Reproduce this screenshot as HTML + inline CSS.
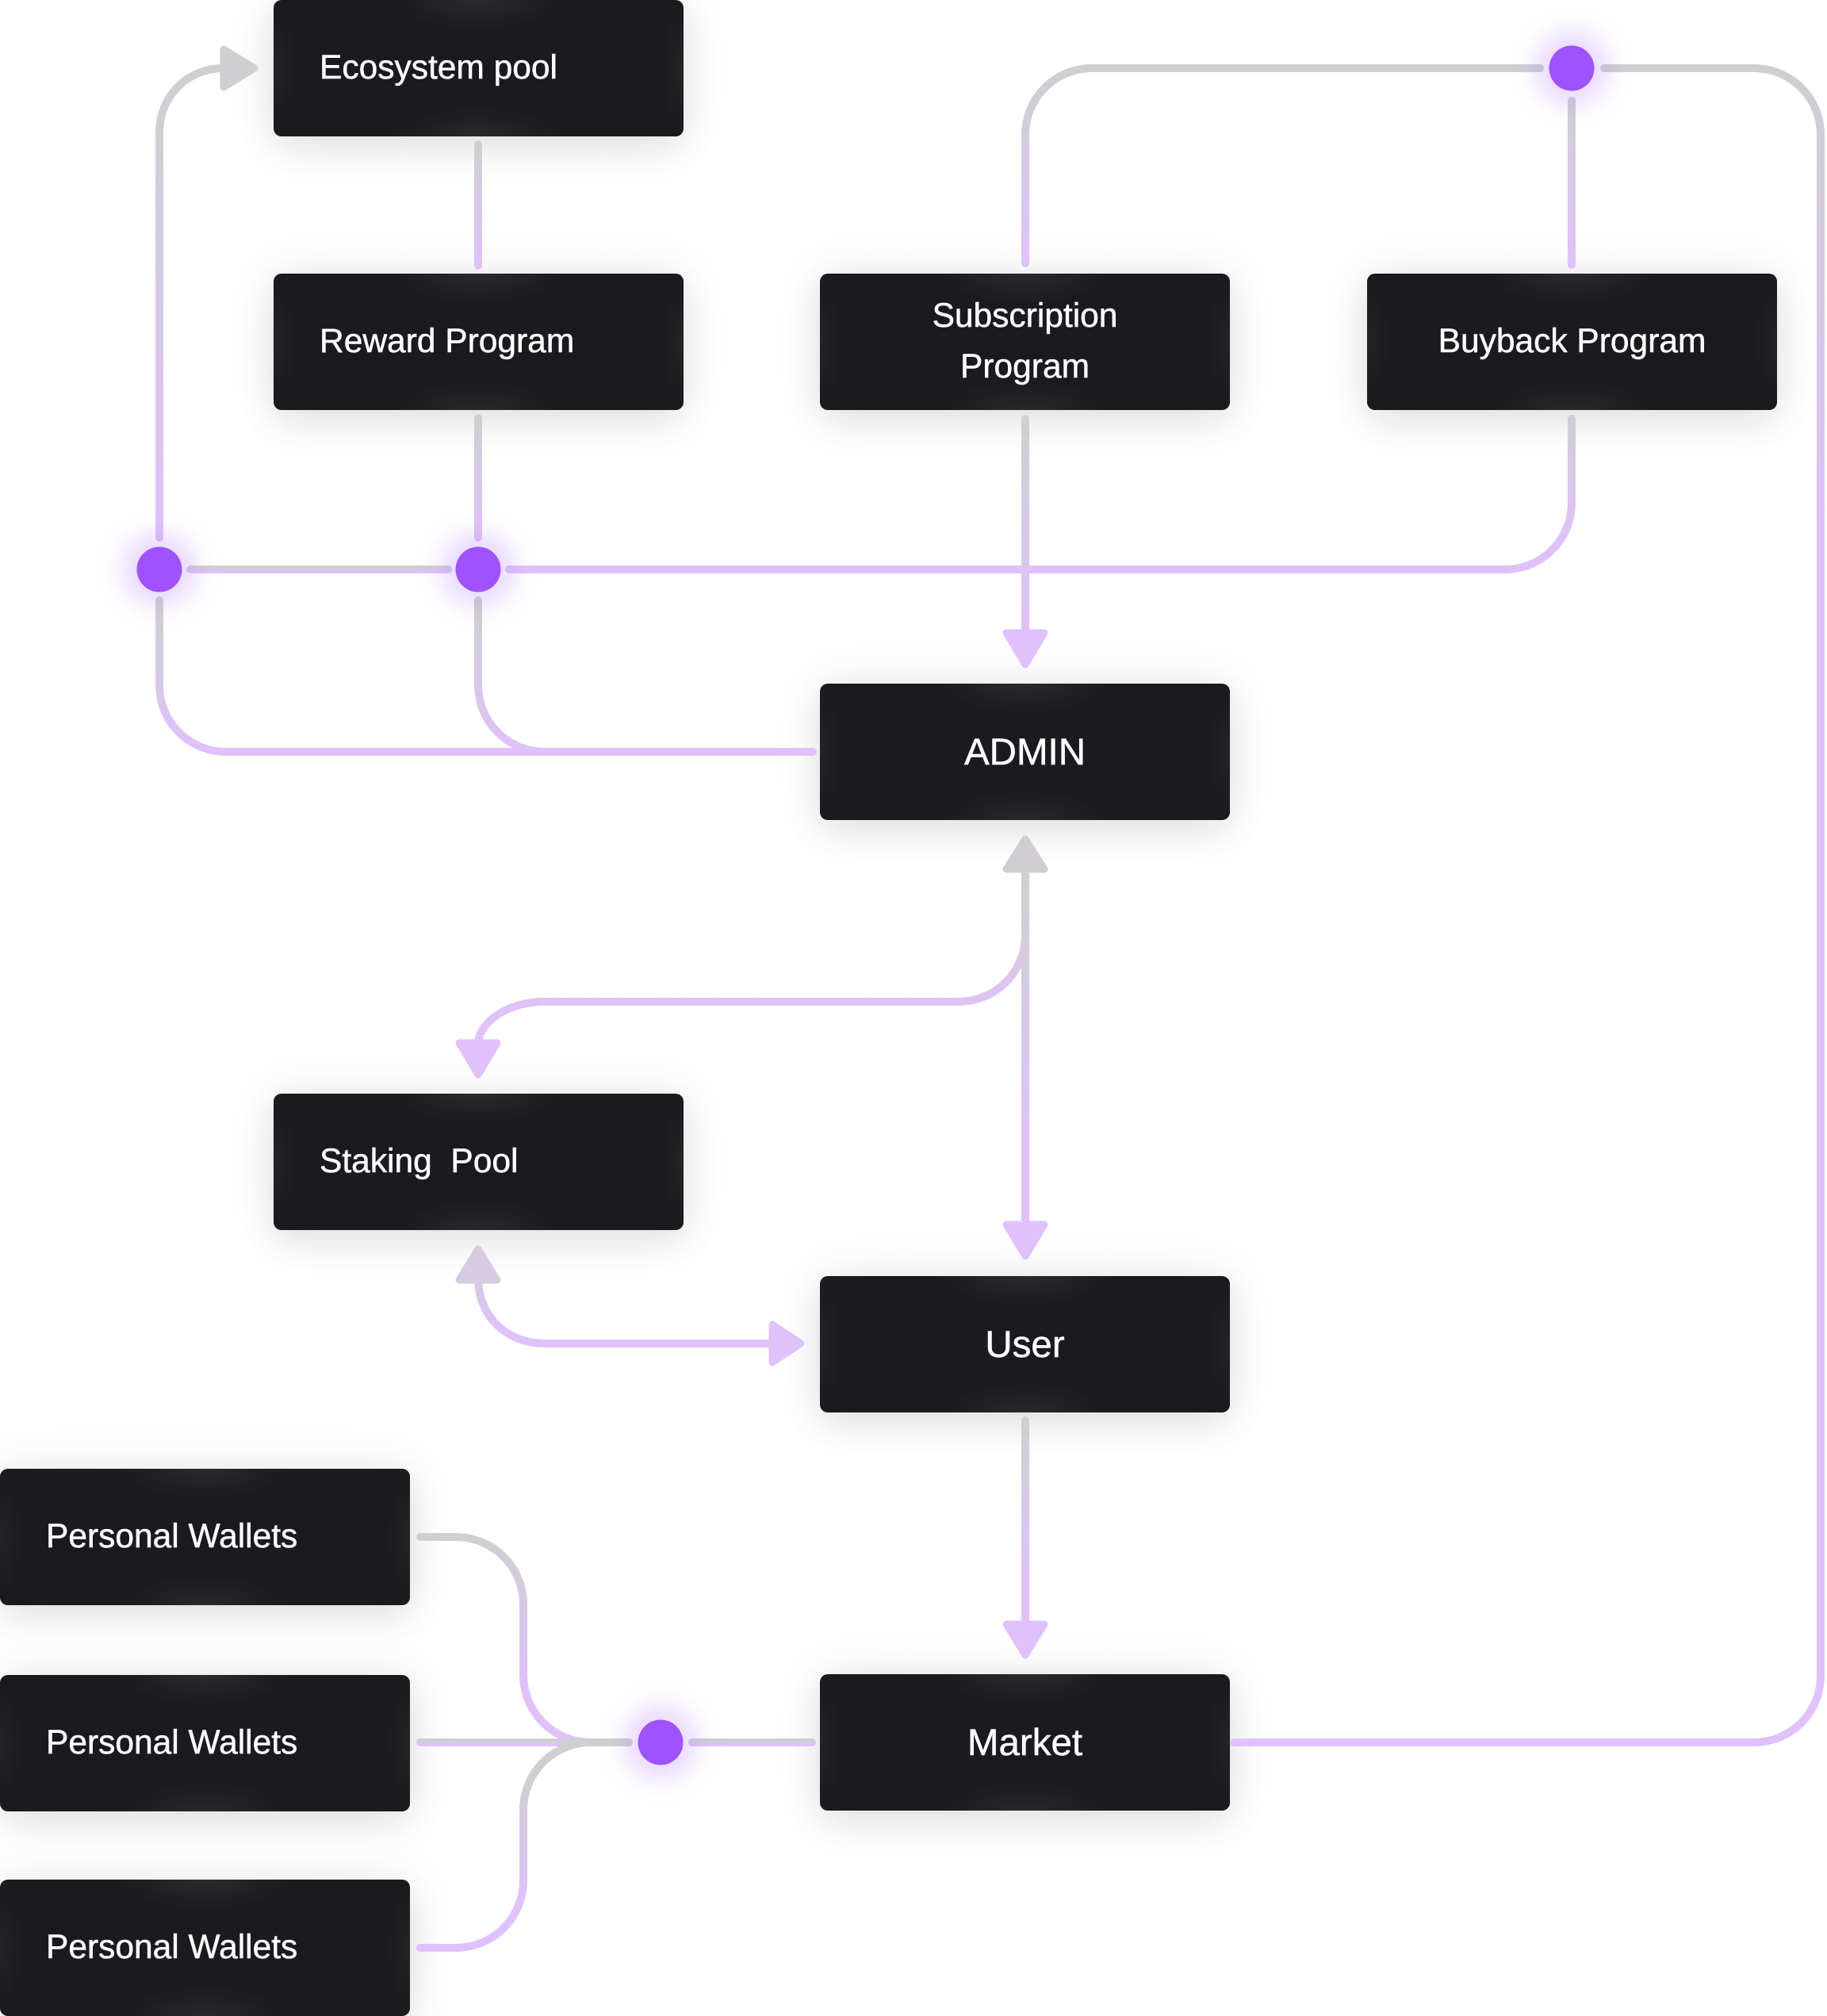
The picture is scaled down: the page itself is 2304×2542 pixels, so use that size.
<!DOCTYPE html>
<html>
<head>
<meta charset="utf-8">
<style>
  html, body { margin:0; padding:0; background:#ffffff; }
  body { width:2304px; height:2542px; position:relative; overflow:hidden; font-family:"Liberation Sans", Arial, sans-serif; }
  .box {
    position:absolute; width:517px; height:172px; border-radius:10px;
    background:
      radial-gradient(ellipse 110px 38px at 50% 0%, rgba(255,255,255,0.07), rgba(255,255,255,0) 100%),
      radial-gradient(ellipse 110px 38px at 50% 100%, rgba(255,255,255,0.06), rgba(255,255,255,0) 100%),
      radial-gradient(ellipse 30px 80px at 0% 50%, rgba(255,255,255,0.04), rgba(255,255,255,0) 100%),
      radial-gradient(ellipse 30px 80px at 100% 50%, rgba(255,255,255,0.04), rgba(255,255,255,0) 100%),
      #1b1a1f;
    box-shadow: 0 0 60px rgba(0,0,0,0.09), 0 18px 50px rgba(0,0,0,0.07);
    color:#ffffff; display:flex; align-items:center;
    font-size:42.5px; -webkit-text-stroke:0.5px #ffffff;
    box-sizing:border-box; white-space:pre;
  }
  .left { padding-left:58px; }
  .center { justify-content:center; text-align:center; }
  .big { font-size:47.5px; }
  .two { line-height:64px; }
  svg { position:absolute; left:0; top:0; }
</style>
</head>
<body>

<div class="box left" style="left:345px;top:0px;">Ecosystem pool</div>
<div class="box left" style="left:345px;top:345px;">Reward Program</div>
<div class="box center two" style="left:1034px;top:345px;">Subscription<br>Program</div>
<div class="box center" style="left:1724px;top:345px;">Buyback Program</div>
<div class="box center big" style="left:1034px;top:862px;">ADMIN</div>
<div class="box left" style="left:345px;top:1379px;">Staking  Pool</div>
<div class="box center big" style="left:1034px;top:1609px;">User</div>
<div class="box center big" style="left:1034px;top:2111px;">Market</div>
<div class="box left" style="left:0px;top:1852px;">Personal Wallets</div>
<div class="box left" style="left:0px;top:2112px;">Personal Wallets</div>
<div class="box left" style="left:0px;top:2370px;">Personal Wallets</div>

<svg width="2304" height="2542" viewBox="0 0 2304 2542" xmlns="http://www.w3.org/2000/svg">
  <defs>
    <linearGradient id="g1" gradientUnits="userSpaceOnUse" x1="0" y1="182" x2="0" y2="335"><stop offset="0" stop-color="#cfcfd1"/><stop offset="1" stop-color="#e0c1fb"/></linearGradient>
    <linearGradient id="g2" gradientUnits="userSpaceOnUse" x1="0" y1="527" x2="0" y2="678"><stop offset="0" stop-color="#cfcfd1"/><stop offset="1" stop-color="#e0c1fb"/></linearGradient>
    <linearGradient id="g3" gradientUnits="userSpaceOnUse" x1="0" y1="86" x2="0" y2="678"><stop offset="0" stop-color="#cfcfd1"/><stop offset="1" stop-color="#e0c1fb"/></linearGradient>
    <linearGradient id="gh718" gradientUnits="userSpaceOnUse" x1="0" y1="713" x2="0" y2="723"><stop offset="0.3" stop-color="#cfcfd1"/><stop offset="0.8" stop-color="#e0c1fb"/></linearGradient>
    <linearGradient id="g5" gradientUnits="userSpaceOnUse" x1="0" y1="528" x2="0" y2="718"><stop offset="0" stop-color="#cfcfd1"/><stop offset="0.75" stop-color="#e0c1fb"/></linearGradient>
    <linearGradient id="g6" gradientUnits="userSpaceOnUse" x1="0" y1="757" x2="0" y2="948"><stop offset="0" stop-color="#cfcfd1"/><stop offset="1" stop-color="#e0c1fb"/></linearGradient>
    <linearGradient id="g7" gradientUnits="userSpaceOnUse" x1="0" y1="528" x2="0" y2="790"><stop offset="0" stop-color="#cfcfd1"/><stop offset="1" stop-color="#e0c1fb"/></linearGradient>
    <linearGradient id="g8" gradientUnits="userSpaceOnUse" x1="0" y1="86" x2="0" y2="332"><stop offset="0" stop-color="#cfcfd1"/><stop offset="1" stop-color="#e0c1fb"/></linearGradient>
    <linearGradient id="g9" gradientUnits="userSpaceOnUse" x1="0" y1="127" x2="0" y2="334"><stop offset="0" stop-color="#cfcfd1"/><stop offset="1" stop-color="#e0c1fb"/></linearGradient>
    <linearGradient id="g10" gradientUnits="userSpaceOnUse" x1="0" y1="86" x2="0" y2="700"><stop offset="0" stop-color="#cfcfd1"/><stop offset="1" stop-color="#e0c1fb"/></linearGradient>
    <linearGradient id="g11" gradientUnits="userSpaceOnUse" x1="0" y1="1100" x2="0" y2="1540"><stop offset="0" stop-color="#cfcfd1"/><stop offset="0.8" stop-color="#e0c1fb"/></linearGradient>
    <linearGradient id="g13" gradientUnits="userSpaceOnUse" x1="0" y1="1175" x2="0" y2="1263"><stop offset="0" stop-color="#d5cbdc"/><stop offset="1" stop-color="#dfc3f6"/></linearGradient>
    <linearGradient id="g14" gradientUnits="userSpaceOnUse" x1="0" y1="1615" x2="0" y2="1694"><stop offset="0" stop-color="#d6c9e4"/><stop offset="1" stop-color="#e0c1fb"/></linearGradient>
    <linearGradient id="g15" gradientUnits="userSpaceOnUse" x1="0" y1="1791" x2="0" y2="2044"><stop offset="0" stop-color="#cfcfd1"/><stop offset="0.8" stop-color="#e0c1fb"/></linearGradient>
    <linearGradient id="g16" gradientUnits="userSpaceOnUse" x1="0" y1="1938" x2="0" y2="2197"><stop offset="0" stop-color="#cfcfd1"/><stop offset="0.75" stop-color="#e0c1fb"/></linearGradient>
    <linearGradient id="g18" gradientUnits="userSpaceOnUse" x1="0" y1="2197" x2="0" y2="2456"><stop offset="0.15" stop-color="#cfcfd1"/><stop offset="0.8" stop-color="#e0c1fb"/></linearGradient>
    <linearGradient id="gh2197" gradientUnits="userSpaceOnUse" x1="0" y1="2192" x2="0" y2="2202"><stop offset="0.3" stop-color="#cfcfd1"/><stop offset="0.8" stop-color="#e0c1fb"/></linearGradient>
    <filter id="glow" x="-100%" y="-100%" width="300%" height="300%">
      <feGaussianBlur stdDeviation="16"/>
    </filter>
  </defs>

  <g fill="none" stroke-width="10" stroke-linecap="round" stroke-linejoin="round">
    <!-- Eco -> Reward -->
    <path d="M603,182 V335" stroke="url(#g1)"/>
    <!-- Reward -> dot2 -->
    <path d="M603,527 V678" stroke="url(#g2)"/>
    <!-- dot1 up to Ecosystem arrow -->
    <path d="M201,678 V166 A80,80 0 0 1 281,86 H284" stroke="url(#g3)"/>
    <!-- between dots -->
    <path d="M240,718 H565" stroke="url(#gh718)"/>
    <!-- dot2 right to Buyback -->
    <path d="M642,718 H1898 A84,84 0 0 0 1982,634 V528" stroke="url(#g5)"/>
    <!-- dot1 down to ADMIN -->
    <path d="M201,757 V864 A84,84 0 0 0 285,948 H1025" stroke="url(#g6)"/>
    <!-- dot2 down joining -->
    <path d="M603,757 V864 A84,84 0 0 0 687,948" stroke="url(#g6)"/>
    <!-- Subscription down to ADMIN -->
    <path d="M1293,528 V800" stroke="url(#g7)"/>
    <!-- Subscription up to top line -->
    <path d="M1293,332 V170 A84,84 0 0 1 1377,86 H1942" stroke="url(#g8)"/>
    <!-- top-right dot down to Buyback -->
    <path d="M1982,127 V334" stroke="url(#g9)"/>
    <!-- big loop to Market -->
    <path d="M2023,86 H2212 A84,84 0 0 1 2296,170 V2113 A84,84 0 0 1 2212,2197 H1556" stroke="url(#g10)"/>
    <!-- ADMIN <-> User -->
    <path d="M1293,1100 V1545" stroke="url(#g11)"/>
    <!-- branch to Staking -->
    <path d="M1293,1175 A84,84 0 0 1 1209,1263 H686 C640,1263 603,1290 603,1316" stroke="url(#g13)"/>
    <!-- Staking <-> User -->
    <path d="M603,1612 C603,1660 640,1694 686,1694 H975" stroke="url(#g14)"/>
    <!-- User -> Market -->
    <path d="M1293,1791 V2048" stroke="url(#g15)"/>
    <!-- Personal wallets -->
    <path d="M530,1938 H575 A85,85 0 0 1 660,2023 V2112 A85,85 0 0 0 745,2197 H793" stroke="url(#g16)"/>
    <path d="M530,2197 H793" stroke="url(#gh2197)"/>
    <path d="M530,2456 H575 A85,85 0 0 0 660,2371 V2282 A85,85 0 0 1 745,2197 H793" stroke="url(#g18)"/>
    <path d="M873,2197 H1024" stroke="url(#gh2197)"/>
  </g>

  <!-- Arrowheads -->
  <g stroke-width="9" stroke-linejoin="round">
    <!-- Ecosystem arrow (right, grey) -->
    <polygon points="282,62 282,110 321,86" fill="#cfcfd1" stroke="#cfcfd1"/>
    <!-- Subscription -> ADMIN (down) -->
    <polygon points="1269,798 1317,798 1293,838" fill="#e0c1fb" stroke="#e0c1fb"/>
    <!-- ADMIN up arrow (grey) -->
    <polygon points="1269,1096 1317,1096 1293,1058" fill="#cfcdd2" stroke="#cfcdd2"/>
    <!-- down to User -->
    <polygon points="1269,1544 1317,1544 1293,1584" fill="#e0c1fb" stroke="#e0c1fb"/>
    <!-- down to Staking -->
    <polygon points="579,1315 627,1315 603,1355" fill="#e0c1fb" stroke="#e0c1fb"/>
    <!-- up from Staking bottom -->
    <polygon points="579,1614 627,1614 603,1575" fill="#d6cbe1" stroke="#d6cbe1"/>
    <!-- right to User -->
    <polygon points="974,1670 974,1718 1010,1694" fill="#e0c1fb" stroke="#e0c1fb"/>
    <!-- down to Market -->
    <polygon points="1269,2048 1317,2048 1293,2087" fill="#e0c1fb" stroke="#e0c1fb"/>
  </g>

  <!-- Dots with glow -->
  <g>
    <circle cx="201" cy="718" r="46" fill="#b98bff" opacity="0.35" filter="url(#glow)"/>
    <circle cx="603" cy="718" r="46" fill="#b98bff" opacity="0.35" filter="url(#glow)"/>
    <circle cx="1982" cy="86" r="46" fill="#b98bff" opacity="0.35" filter="url(#glow)"/>
    <circle cx="833" cy="2197" r="46" fill="#b98bff" opacity="0.35" filter="url(#glow)"/>
    <circle cx="201" cy="718" r="28.5" fill="#a052ff"/>
    <circle cx="603" cy="718" r="28.5" fill="#a052ff"/>
    <circle cx="1982" cy="86" r="28.5" fill="#a052ff"/>
    <circle cx="833" cy="2197" r="28.5" fill="#a052ff"/>
  </g>
</svg>

</body>
</html>
